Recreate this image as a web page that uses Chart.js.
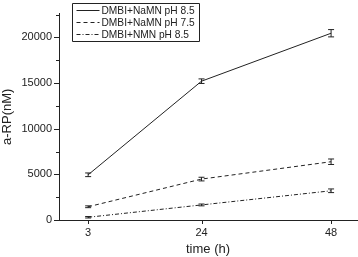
<!DOCTYPE html>
<html>
<head>
<meta charset="utf-8">
<script src="https://cdn.jsdelivr.net/npm/chart.js@4"></script>
<style>
  html, body { margin: 0; padding: 0; background: #fff; }
  #wrap { width: 358px; height: 257px; position: relative; }
</style>
</head>
<body>
<div id="wrap"><canvas id="chart"></canvas></div>
<script>
// data
var times = [3, 24, 48];
var labels = ['DMBI+NaMN pH 8.5', 'DMBI+NaMN pH 7.5', 'DMBI+NMN pH 8.5'];
var naMN85 = [4950, 15200, 20450];
var naMN85Err = [200, 250, 400];
var naMN75 = [1450, 4480, 6380];
var naMN75Err = [100, 200, 300];
var nmn85 = [300, 1650, 3200];
var nmn85Err = [80, 100, 200];
var yTicks = [0, 5000, 10000, 15000, 20000];
var yMinor = [2500, 7500, 12500, 17500, 22500];
var xTicks = [3, 24, 48];

var ink = '#222';
var dashes = [[], [4, 3], [4, 2, 1, 2]];
var errs = [naMN85Err, naMN75Err, nmn85Err];

function pts(vals) {
  return vals.map(function (v, i) { return { x: times[i], y: v }; });
}

// error bars with little caps
var errorBars = {
  id: 'errorBars',
  afterDatasetsDraw: function (chart) {
    var ctx = chart.ctx, xs = chart.scales.x, ys = chart.scales.y;
    ctx.save();
    ctx.strokeStyle = ink;
    ctx.lineWidth = 1;
    chart.data.datasets.forEach(function (ds, di) {
      ds.data.forEach(function (p, i) {
        var x = xs.getPixelForValue(p.x);
        var y1 = ys.getPixelForValue(p.y - errs[di][i]);
        var y2 = ys.getPixelForValue(p.y + errs[di][i]);
        ctx.beginPath();
        ctx.moveTo(x, y1); ctx.lineTo(x, y2);
        ctx.moveTo(x - 3, y1); ctx.lineTo(x + 3, y1);
        ctx.moveTo(x - 3, y2); ctx.lineTo(x + 3, y2);
        ctx.stroke();
      });
    });
    ctx.restore();
  }
};

// axis ticks (major + minor) and boxed legend
var decor = {
  id: 'decor',
  afterDraw: function (chart) {
    var ctx = chart.ctx, xs = chart.scales.x, ys = chart.scales.y;
    var a = chart.chartArea;
    ctx.save();
    ctx.strokeStyle = ink;
    ctx.lineWidth = 1;
    ctx.beginPath();
    yTicks.forEach(function (v) {
      var y = Math.round(ys.getPixelForValue(v)) + 0.5;
      ctx.moveTo(a.left - 5, y); ctx.lineTo(a.left, y);
    });
    yMinor.forEach(function (v) {
      var y = Math.round(ys.getPixelForValue(v)) + 0.5;
      ctx.moveTo(a.left - 3, y); ctx.lineTo(a.left, y);
    });
    xTicks.forEach(function (v) {
      var x = Math.round(xs.getPixelForValue(v)) + 0.5;
      ctx.moveTo(x, a.bottom); ctx.lineTo(x, a.bottom + 4);
    });
    // x axis runs a little past the y axis, as in the original
    ctx.moveTo(a.left - 5, Math.round(a.bottom) + 0.5); ctx.lineTo(a.left, Math.round(a.bottom) + 0.5);
    ctx.stroke();

    // legend box
    var bx = 72.5, by = 3.5, bw = 127, bh = 38;
    ctx.beginPath();
    ctx.rect(bx, by, bw, bh);
    ctx.stroke();
    ctx.font = '10.2px "Liberation Sans", Arial, sans-serif';
    ctx.fillStyle = ink;
    ctx.textBaseline = 'middle';
    labels.forEach(function (t, i) {
      var y = by + 7 + i * 12;
      ctx.setLineDash(dashes[i]);
      ctx.beginPath();
      ctx.moveTo(bx + 4, y); ctx.lineTo(bx + 27, y);
      ctx.stroke();
      ctx.setLineDash([]);
      ctx.fillText(t, bx + 29, y + 0.5);
    });
    ctx.restore();
  }
};

var tickFont = { family: '"Liberation Sans", Arial, sans-serif', size: 11 };

new Chart(document.getElementById('chart').getContext('2d'), {
  type: 'line',
  data: {
    datasets: [naMN85, naMN75, nmn85].map(function (vals, i) {
      return {
        label: labels[i], data: pts(vals),
        borderColor: ink, borderWidth: 1, borderDash: dashes[i],
        pointRadius: 0, tension: 0, fill: false
      };
    })
  },
  options: {
    responsive: true, maintainAspectRatio: false, animation: false,
    layout: { padding: { top: 0, right: 1, left: 0, bottom: 0 } },
    plugins: { legend: { display: false }, tooltip: { enabled: false } },
    scales: {
      x: {
        type: 'linear', min: -2.4, max: 52.8,
        afterBuildTicks: function (s) { s.ticks = xTicks.map(function (v) { return { value: v }; }); },
        grid: { display: false, drawTicks: false },
        border: { display: true, color: ink, width: 1 },
        ticks: { color: ink, font: tickFont, padding: 6, maxRotation: 0, callback: function (v) { return String(v); } },
        title: { display: true, text: 'time (h)', color: ink, font: { family: tickFont.family, size: 13 }, padding: { top: 0, bottom: 0 } },
        afterFit: function (s) { s.height = 37; }
      },
      y: {
        min: 0, max: 22600,
        afterBuildTicks: function (s) { s.ticks = yTicks.map(function (v) { return { value: v }; }); },
        grid: { display: false, drawTicks: false },
        border: { display: true, color: ink, width: 1 },
        ticks: { color: ink, font: tickFont, padding: 7, callback: function (v) { return String(v); } },
        title: { display: true, text: 'a-RP(nM)', color: ink, font: { family: tickFont.family, size: 13 }, padding: { top: 0, bottom: 2 } },
        afterFit: function (s) { s.width = 59; }
      }
    }
  },
  plugins: [errorBars, decor]
});
</script>
</body>
</html>
